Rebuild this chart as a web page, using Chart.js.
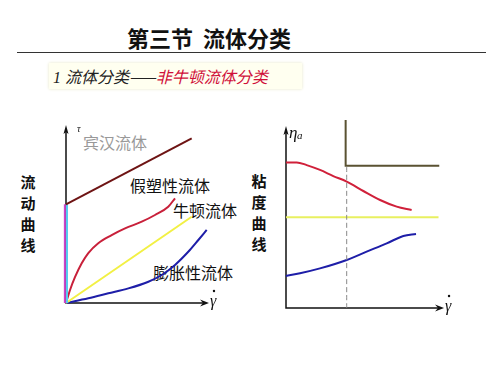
<!DOCTYPE html>
<html>
<head>
<meta charset="utf-8">
<script src="https://cdn.jsdelivr.net/npm/chart.js@4.4.0/dist/chart.umd.min.js"></script>
<style>
  body { margin: 0; background: #fff; }
  #page { position: relative; width: 500px; height: 375px; overflow: hidden; font-family: "Noto Sans CJK SC", sans-serif; }
  canvas { position: absolute; left: 0; top: 0; }
  .t { position: absolute; white-space: nowrap; }
  #title { left: 127px; top: 25px; font-size: 22px; line-height: 24px; font-weight: bold; color: #111; }
  #rule { position: absolute; left: 17px; top: 52px; width: 469px; height: 1px; background: #333; }
  #sub { position: absolute; left: 49px; top: 63px; width: 253px; height: 26px; background: #fffff0; box-shadow: 0 0 3px #e6e6c8; }
  #subtext { left: 53px; top: 66px; font-size: 16px; line-height: 20px; font-style: italic; color: #222; }
  #subtext .n { font-family: "Liberation Serif", serif; }
  #subtext .r { color: #d0103a; }
  .vert { position: absolute; font-size: 15px; line-height: 21px; font-weight: bold; color: #111; width: 16px; text-align: center; }
  .lbl { font-size: 16px; line-height: 18px; color: #111; }
</style>
</head>
<body>
<div id="page">
  <div class="t" id="title">第三节&nbsp;&nbsp;流体分类</div>
  <div id="rule"></div>
  <div id="sub"></div>
  <div class="t" id="subtext"><span class="n">1 </span>流体分类——<span class="r">非牛顿流体分类</span></div>
  <div class="vert" style="left:20px; top:171px;">流<br>动<br>曲<br>线</div>
  <div class="vert" style="left:251px; top:170px;">粘<br>度<br>曲<br>线</div>
  <div class="t lbl" style="left:83px; top:133px; color:#999;">宾汉流体</div>
  <div class="t lbl" style="left:130px; top:176px;">假塑性流体</div>
  <div class="t lbl" style="left:173px; top:201px;">牛顿流体</div>
  <div class="t lbl" style="left:153px; top:263px;">膨胀性流体</div>
  <canvas id="flow" width="500" height="375"></canvas>
  <canvas id="visc" width="500" height="375"></canvas>
</div>
<script>
// flow curves: shear rate (x) vs shear stress (y), arbitrary units 0-10
const binghamX = [0, 8.73];
const binghamY = [5.61, 9.36];
const yieldX = [0, 0];
const yieldY = [0, 5.61];
const pseudoX = [0, 0.28, 0.63, 1.09, 1.55, 2.24, 3.17, 4.1, 5.26, 6.18, 7.1, 7.57];
const pseudoY = [0, 0.74, 1.48, 2.26, 2.84, 3.4, 3.86, 4.24, 4.62, 5.0, 5.47, 5.95];
const newtonX = [0, 8.73];
const newtonY = [0, 4.9];
const dilatantX = [0, 1.55, 2.94, 4.33, 5.72, 6.65, 7.57, 8.49, 9.19, 9.77];
const dilatantY = [0, 0.27, 0.55, 0.83, 1.21, 1.59, 2.16, 2.91, 3.58, 4.15];

// viscosity curves: shear rate (x) vs apparent viscosity (y)
const vPseudoX = [0, 0.71, 1.37, 2.25, 3.13, 4.02, 5.12, 6.23, 7.33, 8.32];
const vPseudoY = [8.09, 8.09, 7.94, 7.67, 7.33, 7.02, 6.5, 6.0, 5.63, 5.44];
const vNewtonX = [0, 10.1];
const vNewtonY = [5.04, 5.04];
const vDilatantX = [0, 0.93, 2.25, 4.02, 5.34, 6.67, 7.77, 8.61];
const vDilatantY = [1.78, 1.93, 2.2, 2.67, 3.13, 3.59, 4.0, 4.11];
const vBinghamX = [3.95, 3.95, 10.15];
const vBinghamY = [10.44, 7.9, 7.9];
const criticalX = [4.02, 4.02];
const criticalY = [0, 7.9];

function pts(xs, ys) {
  return xs.map((x, i) => ({ x: x, y: ys[i] }));
}

function line(xs, ys, color, extra) {
  return Object.assign({
    data: pts(xs, ys),
    showLine: true,
    borderColor: color,
    borderWidth: 2,
    pointRadius: 0,
    cubicInterpolationMode: "monotone",
    clip: false
  }, extra || {});
}

// axes with arrows, drawn under the curves
const axesPlugin = {
  id: "axes",
  beforeDatasetsDraw(chart, args, opts) {
    const ctx = chart.ctx;
    const sx = chart.scales.x;
    const sy = chart.scales.y;
    const ox = sx.getPixelForValue(0);
    const oy = sy.getPixelForValue(0);
    const ex = sx.getPixelForValue(opts.xEnd);
    const ey = sy.getPixelForValue(opts.yEnd);
    ctx.save();
    ctx.strokeStyle = "#111";
    ctx.fillStyle = "#111";
    ctx.lineWidth = 1.5;
    ctx.beginPath();
    ctx.moveTo(ox, ey + 2);
    ctx.lineTo(ox, oy);
    ctx.lineTo(ex - 2, oy);
    ctx.stroke();
    // y arrow
    ctx.beginPath();
    ctx.moveTo(ox, ey - 2);
    ctx.lineTo(ox - 2.5, ey + 7);
    ctx.lineTo(ox, ey + 5);
    ctx.lineTo(ox + 2.5, ey + 7);
    ctx.closePath();
    ctx.fill();
    // x arrow
    ctx.beginPath();
    ctx.moveTo(ex + 1, oy);
    ctx.lineTo(ex - 8, oy - 3.5);
    ctx.lineTo(ex - 5, oy);
    ctx.lineTo(ex - 8, oy + 3.5);
    ctx.closePath();
    ctx.fill();
    ctx.restore();
  },
  afterDraw(chart, args, opts) {
    const ctx = chart.ctx;
    const sx = chart.scales.x;
    const sy = chart.scales.y;
    const ox = sx.getPixelForValue(0);
    const oy = sy.getPixelForValue(0);
    const ex = sx.getPixelForValue(opts.xEnd);
    const ey = sy.getPixelForValue(opts.yEnd);
    ctx.save();
    ctx.fillStyle = "#111";
    ctx.textBaseline = "middle";
    ctx.font = "italic 16px 'Liberation Serif'";
    ctx.fillText("γ", ex + 2, oy - 1);
    ctx.beginPath();
    ctx.arc(ex + 6, oy - 12, 1.2, 0, Math.PI * 2);
    ctx.fill();
    if (opts.yLabel === "tau") {
      ctx.font = "italic 10px 'Liberation Serif'";
      ctx.fillText("τ", ox + 11, ey + 2);
    } else {
      ctx.font = "italic 17px 'Liberation Serif'";
      ctx.fillText("η", ox + 3, ey + 6);
      ctx.font = "italic 11px 'Liberation Serif'";
      ctx.fillText("a", ox + 11, ey + 8);
    }
    ctx.restore();
  }
};

function makeChart(id, datasets, pad, axisOpts) {
  new Chart(document.getElementById(id).getContext("2d"), {
    type: "scatter",
    data: { datasets: datasets },
    options: {
      responsive: false,
      animation: false,
      layout: { padding: pad },
      scales: {
        x: { type: "linear", min: 0, max: 10, display: false },
        y: { type: "linear", min: 0, max: 10, display: false }
      },
      plugins: {
        legend: { display: false },
        tooltip: { enabled: false },
        axes: axisOpts
      }
    },
    plugins: [axesPlugin]
  });
}

makeChart("flow", [
  line(binghamX, binghamY, "#6e1414"),
  line(yieldX.map((x) => x - 0.08), yieldY, "#cc44cc"),
  line(yieldX.map((x) => x + 0.07), yieldY, "#55ccee"),
  line(pseudoX, pseudoY, "#c8203a"),
  line(newtonX, newtonY, "#f2f044"),
  line(dilatantX, dilatantY, "#1e1ea8")
], { left: 66, right: 290, top: 127, bottom: 72 }, { xEnd: 9.86, yEnd: 10, yLabel: "tau" });

makeChart("visc", [
  line(criticalX, criticalY, "#888", { borderWidth: 1, borderDash: [5, 3] }),
  line(vBinghamX, vBinghamY, "#5a5232"),
  line(vPseudoX, vPseudoY, "#d0203a"),
  line(vNewtonX, vNewtonY, "#e8f060"),
  line(vDilatantX, vDilatantY, "#1e1ea8")
], { left: 286, right: 63, top: 128, bottom: 67 }, { xEnd: 10.4, yEnd: 10, yLabel: "eta" });
</script>
</body>
</html>
